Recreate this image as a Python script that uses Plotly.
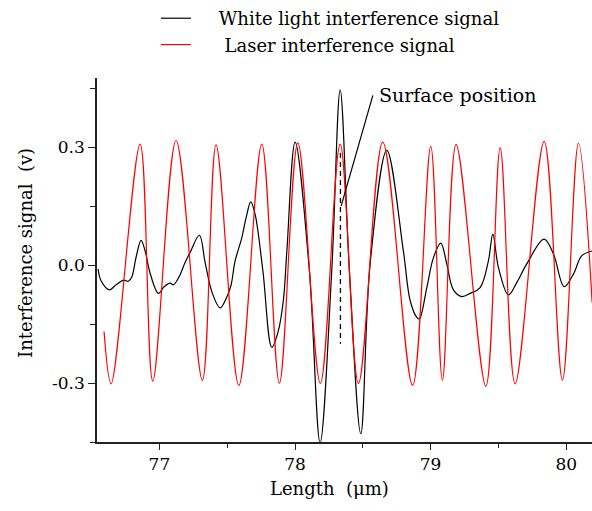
import plotly.graph_objects as go

# Laser interference signal: turning points (μm, V)
laser_x = [76.592, 76.644, 76.858, 76.951, 77.123, 77.317, 77.418, 77.586, 77.755, 77.885,
           78.021, 78.187, 78.333, 78.468, 78.647, 78.867, 79.001, 79.087, 79.188, 79.407,
           79.513, 79.623, 79.837, 79.972, 80.090, 80.191]
laser_y = [-0.169, -0.302, 0.308, -0.295, 0.317, -0.293, 0.306, -0.306, 0.308, -0.300,
           0.311, -0.301, 0.308, -0.301, 0.313, -0.306, 0.302, -0.293, 0.307, -0.308,
           0.299, -0.302, 0.315, -0.293, 0.310, -0.095]

# White light interference signal (μm, V)
white_x = [76.548, 76.570, 76.631, 76.681, 76.735, 76.771, 76.796, 76.828, 76.865, 76.895,
           76.931, 76.993, 77.035, 77.079, 77.103, 77.145, 77.190, 77.226, 77.295, 77.337,
           77.389, 77.448, 77.499, 77.529, 77.558, 77.608, 77.639, 77.674, 77.706, 77.763,
           77.829, 77.875, 77.914, 77.940, 78.001, 78.106, 78.185, 78.271, 78.333, 78.401,
           78.485, 78.554, 78.677, 78.799, 78.849, 78.898, 78.917, 78.972, 79.021, 79.075,
           79.119, 79.168, 79.230, 79.291, 79.365, 79.426, 79.459, 79.500, 79.574, 79.636,
           79.709, 79.837, 79.906, 79.985, 80.053, 80.115, 80.191]
white_y = [-0.010, -0.040, -0.063, -0.050, -0.038, -0.041, -0.031, 0.020, 0.063, 0.036,
           -0.020, -0.072, -0.055, -0.046, -0.050, -0.030, 0.007, 0.032, 0.076, 0.007,
           -0.070, -0.109, -0.080, -0.050, 0.010, 0.070, 0.120, 0.161, 0.129, -0.014,
           -0.209, -0.170, -0.090, 0.036, 0.313, -0.014, -0.452, -0.014, 0.446, -0.014,
           -0.429, 0.003, 0.292, 0.036, -0.090, -0.133, -0.137, -0.057, 0.019, 0.056,
           0.003, -0.063, -0.080, -0.072, -0.057, 0.011, 0.079, -0.006, -0.076, -0.044,
           0.003, 0.066, 0.028, -0.055, -0.023, 0.024, 0.036]

x_ticks = [77, 78, 79, 80]
y_ticks = [-0.3, 0.0, 0.3]
y_tick_text = ["-0.3", "0.0", "0.3"]

surface_x = 78.335

SERIF = "DejaVu Serif, serif"
NB = "\u00a0"

fig = go.Figure()
fig.add_trace(go.Scatter(
    x=white_x, y=white_y, mode="lines",
    name=NB * 4 + "White light interference signal",
    line=dict(color="black", width=1.2, shape="spline", smoothing=1.0),
))
fig.add_trace(go.Scatter(
    x=laser_x, y=laser_y, mode="lines",
    name=NB * 5 + "Laser interference signal",
    line=dict(color="red", width=1.2, shape="spline", smoothing=1.0),
))

# surface marker and its label
fig.add_shape(type="line", x0=surface_x, x1=surface_x, y0=0.285, y1=-0.20,
              line=dict(color="black", width=1.3, dash="5px,4px"))
fig.add_shape(type="line", x0=78.34, y0=0.150, x1=78.574, y1=0.432,
              line=dict(color="black", width=1.2))
fig.add_annotation(x=78.605, y=0.432, text="Surface position", showarrow=False,
                   xanchor="left", yanchor="middle",
                   font=dict(family=SERIF, size=19, color="black"))
fig.add_annotation(x=0.47, y=-0.127, xref="paper", yref="paper",
                   text="Length" + NB * 2 + "(μm)", showarrow=False,
                   xanchor="center", yanchor="middle",
                   font=dict(family=SERIF, size=18, color="black"))
fig.add_annotation(x=-0.145, y=0.52, xref="paper", yref="paper",
                   text="Interference signal" + NB * 2 + "(v)", showarrow=False,
                   textangle=-90, xanchor="center", yanchor="middle",
                   font=dict(family=SERIF, size=18, color="black"))

fig.update_layout(
    width=592, height=511,
    margin=dict(l=97, r=0, t=77, b=69),
    plot_bgcolor="white", paper_bgcolor="white",
    font=dict(family=SERIF, size=18, color="black"),
    showlegend=True,
    legend=dict(x=0.119, y=1.215, xanchor="left", yanchor="top",
                bgcolor="rgba(0,0,0,0)", borderwidth=0,
                font=dict(family=SERIF, size=18, color="black"),
                tracegroupgap=0),
    xaxis=dict(range=[76.54, 80.19], tickvals=x_ticks, ticks="outside", ticklen=6,
               tickwidth=1.3, tickcolor="#222", showline=True, linecolor="#222",
               linewidth=1.6, showgrid=False, zeroline=False,
               minor=dict(dtick=0.5, tick0=76.5, ticks="outside", ticklen=4,
                          tickwidth=1.3, tickcolor="#222", showgrid=False),
               tickfont=dict(family=SERIF, size=17, color="black")),
    yaxis=dict(range=[-0.45, 0.476], tickvals=y_ticks, ticktext=y_tick_text,
               ticks="outside", ticklen=7, tickwidth=1.3, tickcolor="#222",
               showline=True, linecolor="#222", linewidth=1.6, showgrid=False,
               zeroline=False,
               minor=dict(tickvals=[-0.45, -0.15, 0.15, 0.45], ticks="outside",
                          ticklen=5, tickwidth=1.3, tickcolor="#222", showgrid=False),
               tickfont=dict(family=SERIF, size=17, color="black")),
)

fig.write_html("out.html")
